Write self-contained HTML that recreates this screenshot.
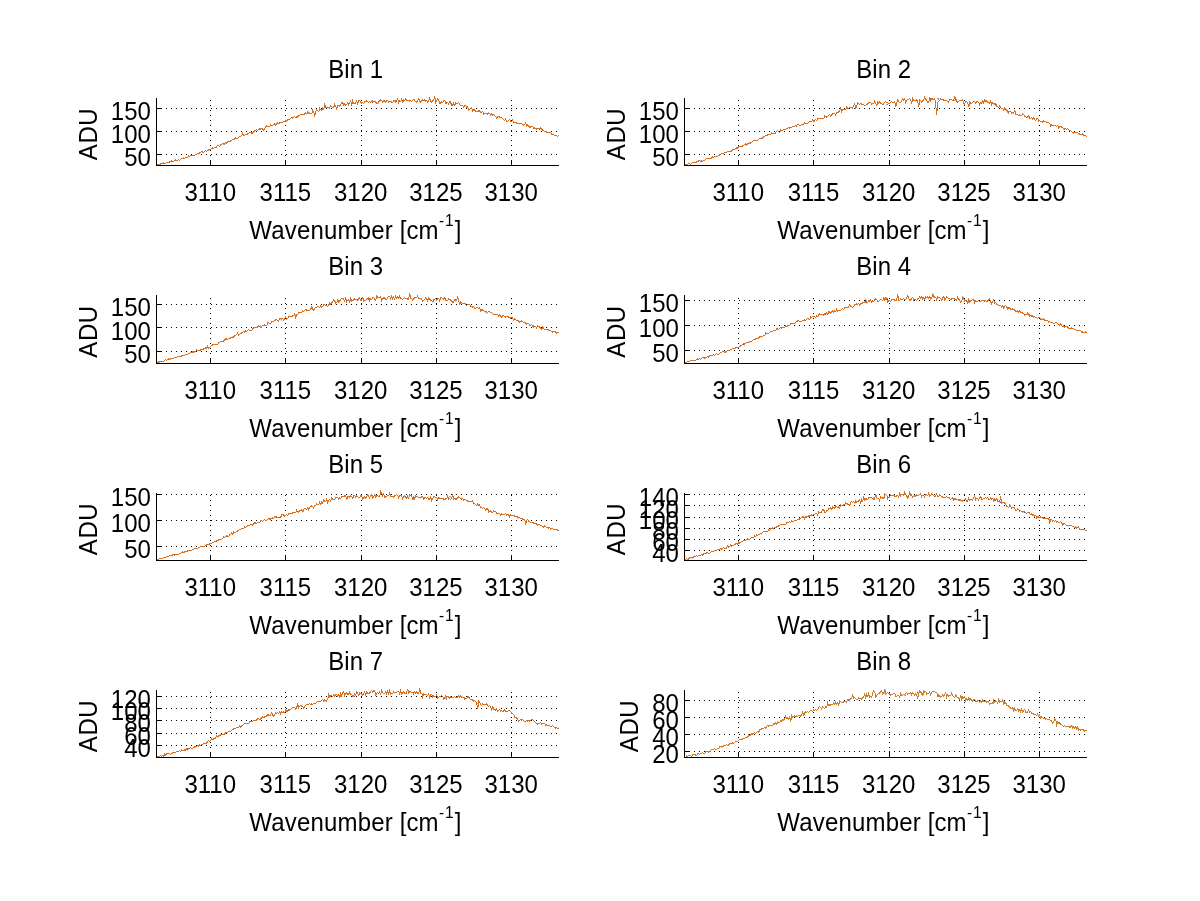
<!DOCTYPE html>
<html><head><meta charset="utf-8"><title>Bins</title>
<style>html,body{margin:0;padding:0;background:#fff}svg{display:block}text{filter:grayscale(1)}text{font-family:"Liberation Sans",sans-serif;fill:#000}</style></head>
<body>
<svg width="1200" height="901" viewBox="0 0 1200 901">
<rect width="1200" height="901" fill="#fff"/>
<g id="bin1">
<path d="M156.0 154.5H559.0M156.0 131.5H559.0M156.0 108.5H559.0M210.5 166.0V98.0M285.5 166.0V98.0M361.5 166.0V98.0M436.5 166.0V98.0M511.5 166.0V98.0" stroke="#000" stroke-width="1" stroke-dasharray="1 4" fill="none"/>
<path d="M182.7,158.3 183.7,158.0M198.7,154.2 199.7,153.3M223.7,145.0 224.7,143.5 225.7,142.8M246.7,134.2 247.7,134.3M257.7,130.2 258.7,129.3M285.7,121.7 286.7,120.8 287.7,120.8M307.7,113.9 308.7,112.4 309.7,113.3M370.7,102.7 371.7,100.9 372.7,102.8M377.7,103.9 378.7,101.3M394.7,100.8 395.7,102.3 396.7,101.4M450.7,103.0 451.7,105.7M466.7,107.1 467.7,107.0M487.7,113.6 488.7,112.9M493.7,115.2 494.7,115.3M549.7,132.9 550.7,132.7" stroke="#3b2a6e" stroke-width="1" fill="none"/>
<path d="M156.7,165.2 157.7,164.7 158.7,164.7 159.7,164.8 160.7,163.9 161.7,163.9 162.7,163.7 163.7,162.7 164.7,163.6 165.7,163.2 166.7,162.5 167.7,162.4 168.7,162.4 169.7,161.9 170.7,161.6 171.7,160.9 172.7,161.5 173.7,161.1 174.7,160.9 175.7,159.9 176.7,160.9 177.7,160.0 178.7,159.5 179.7,160.3 180.7,159.1 181.7,158.3 182.7,158.2 183.7,158.2 184.7,158.4 185.7,157.5 186.7,157.1 187.7,157.5 188.7,156.1 189.7,156.7 190.7,155.3 191.7,155.5 192.7,155.0 193.7,155.8 194.7,155.6 195.7,154.3 196.7,154.5 197.7,153.7 198.7,153.7 199.7,152.8 200.7,152.0 201.7,151.6 202.7,152.2 203.7,152.6 204.7,151.4 205.7,150.7 206.7,151.4 207.7,150.3 208.7,149.9 209.7,149.6 210.7,149.0 211.7,148.6 212.7,147.7 213.7,148.2 214.7,147.5 215.7,147.7 216.7,146.5 217.7,145.4 218.7,145.8 219.7,146.2 220.7,144.9 221.7,144.3 222.7,143.6 223.7,143.2 224.7,143.1 225.7,142.3 226.7,143.1 227.7,141.8 228.7,141.6 229.7,141.8 230.7,140.9 231.7,140.1 232.7,139.9 233.7,139.7 234.7,138.8 235.7,137.5 236.7,138.3 237.7,138.0 238.7,137.4 239.7,136.2 240.7,136.4 241.7,135.6 242.7,133.2 243.7,135.8 244.7,135.5 245.7,134.6 246.7,134.2 247.7,133.9 248.7,133.1 249.7,132.7 250.7,132.0 251.7,133.2 252.7,133.0 253.7,131.8 254.7,130.8 255.7,130.4 256.7,129.8 257.7,130.2 258.7,129.8 259.7,128.4 260.7,129.2 261.7,128.2 262.7,129.2 263.7,130.3 264.7,128.7 265.7,127.0 266.7,125.7 267.7,126.8 268.7,127.0 269.7,126.3 270.7,124.8 271.7,125.5 272.7,125.0 273.7,124.4 274.7,123.9 275.7,125.2 276.7,124.0 277.7,122.8 278.7,123.5 279.7,122.8 280.7,122.4 281.7,122.7 282.7,122.1 283.7,121.7 284.7,121.8 285.7,121.0 286.7,120.0 287.7,119.9 288.7,119.4 289.7,119.6 290.7,118.3 291.7,117.3 292.7,118.5 293.7,117.0 294.7,116.2 295.7,117.7 296.7,116.5 297.7,117.2 298.7,116.0 299.7,115.1 300.7,114.7 301.7,114.9 302.7,114.8 303.7,114.0 304.7,114.1 305.7,112.7 306.7,113.7 307.7,111.8 308.7,112.9 309.7,113.4 310.7,113.4 311.7,113.7 312.7,110.3 313.7,112.2 314.7,115.8 315.7,111.8 316.7,109.7 317.7,110.7 318.7,111.9 319.7,108.2 320.7,109.9 321.7,110.3 322.7,108.2 323.7,109.3 324.7,104.6 325.7,107.3 326.7,107.0 327.7,107.8 328.7,107.3 329.7,108.1 330.7,105.8 331.7,106.5 332.7,107.4 333.7,107.5 334.7,104.4 335.7,106.4 336.7,108.8 337.7,105.7 338.7,105.4 339.7,106.3 340.7,104.8 341.7,102.4 342.7,102.8 343.7,105.1 344.7,103.8 345.7,105.3 346.7,104.1 347.7,102.8 348.7,104.8 349.7,102.5 350.7,100.9 351.7,105.6 352.7,100.8 353.7,103.8 354.7,104.0 355.7,103.0 356.7,100.7 357.7,103.9 358.7,100.8 359.7,100.9 360.7,102.0 361.7,103.3 362.7,102.7 363.7,103.2 364.7,101.6 365.7,101.9 366.7,100.6 367.7,101.6 368.7,102.6 369.7,101.5 370.7,102.4 371.7,101.0 372.7,100.9 373.7,101.7 374.7,101.3 375.7,102.2 376.7,103.2 377.7,103.5 378.7,101.1 379.7,101.0 380.7,100.0 381.7,100.3 382.7,102.0 383.7,100.2 384.7,101.0 385.7,102.0 386.7,100.9 387.7,100.3 388.7,102.2 389.7,101.1 390.7,101.4 391.7,102.4 392.7,102.3 393.7,100.4 394.7,100.2 395.7,101.2 396.7,100.6 397.7,98.4 398.7,102.4 399.7,100.8 400.7,101.7 401.7,99.2 402.7,102.3 403.7,99.9 404.7,100.5 405.7,98.9 406.7,100.4 407.7,100.3 408.7,100.4 409.7,101.2 410.7,100.7 411.7,101.8 412.7,100.0 413.7,99.3 414.7,100.5 415.7,101.3 416.7,102.1 417.7,100.4 418.7,98.3 419.7,101.0 420.7,102.4 421.7,100.6 422.7,99.9 423.7,100.9 424.7,99.9 425.7,101.3 426.7,100.5 427.7,102.3 428.7,101.3 429.7,97.7 430.7,101.6 431.7,102.1 432.7,100.3 433.7,100.6 434.7,96.0 435.7,102.4 436.7,100.7 437.7,98.9 438.7,99.4 439.7,103.6 440.7,102.7 441.7,101.7 442.7,102.5 443.7,100.7 444.7,100.5 445.7,103.3 446.7,102.9 447.7,102.4 448.7,104.1 449.7,101.5 450.7,102.2 451.7,104.1 452.7,105.2 453.7,103.2 454.7,105.3 455.7,102.8 456.7,103.2 457.7,103.6 458.7,102.3 459.7,104.7 460.7,105.9 461.7,105.1 462.7,105.6 463.7,107.7 464.7,105.3 465.7,105.6 466.7,107.0 467.7,106.9 468.7,110.0 469.7,109.4 470.7,108.6 471.7,107.7 472.7,111.2 473.7,109.9 474.7,110.0 475.7,111.3 476.7,111.9 477.7,111.7 478.7,110.9 479.7,110.9 480.7,112.8 481.7,112.4 482.7,111.2 483.7,114.0 484.7,113.9 485.7,113.2 486.7,113.4 487.7,114.1 488.7,113.5 489.7,113.2 490.7,115.0 491.7,113.7 492.7,115.6 493.7,114.4 494.7,115.8 495.7,116.1 496.7,118.0 497.7,116.0 498.7,116.0 499.7,117.0 500.7,117.0 501.7,117.7 502.7,118.9 503.7,119.5 504.7,120.5 505.7,119.0 506.7,121.9 507.7,121.7 508.7,120.4 509.7,119.1 510.7,121.1 511.7,121.5 512.7,120.1 513.7,122.1 514.7,122.2 515.7,122.0 516.7,123.3 517.7,123.9 518.7,123.1 519.7,123.8 520.7,123.5 521.7,123.7 522.7,124.5 523.7,125.1 524.7,124.6 525.7,122.8 526.7,126.0 527.7,124.8 528.7,126.2 529.7,127.6 530.7,126.7 531.7,126.2 532.7,126.3 533.7,128.3 534.7,127.9 535.7,128.6 536.7,129.1 537.7,128.8 538.7,129.0 539.7,129.0 540.7,128.0 541.7,129.3 542.7,130.5 543.7,130.8 544.7,131.5 545.7,131.6 546.7,132.1 547.7,132.8 548.7,132.2 549.7,132.9 550.7,132.5 551.7,134.3 552.7,134.2 553.7,134.8 554.7,135.7 555.7,135.8 556.7,135.6 557.7,136.4 558.7,135.5" stroke="#d8701f" stroke-width="1" fill="none" stroke-linejoin="miter" shape-rendering="crispEdges"/>
<path d="M156.5 98.0V166.0M156.0 165.5H559.0M156.5 154.5h4.5M156.5 131.5h4.5M156.5 108.5h4.5M210.5 165.5v-4.5M285.5 165.5v-4.5M361.5 165.5v-4.5M436.5 165.5v-4.5M511.5 165.5v-4.5" stroke="#000" stroke-width="1" fill="none"/>
<text transform="translate(150.9,166.3) scale(1,1.05)" font-size="24" text-anchor="end">50</text>
<text transform="translate(150.9,143.2) scale(1,1.05)" font-size="24" text-anchor="end">100</text>
<text transform="translate(150.9,120.1) scale(1,1.05)" font-size="24" text-anchor="end">150</text>
<text transform="translate(210.2,201.1) scale(1,1.05)" font-size="24" text-anchor="middle">3110</text>
<text transform="translate(285.4,201.1) scale(1,1.05)" font-size="24" text-anchor="middle">3115</text>
<text transform="translate(360.7,201.1) scale(1,1.05)" font-size="24" text-anchor="middle">3120</text>
<text transform="translate(435.9,201.1) scale(1,1.05)" font-size="24" text-anchor="middle">3125</text>
<text transform="translate(511.2,201.1) scale(1,1.05)" font-size="24" text-anchor="middle">3130</text>
<text transform="translate(355.7,77.8) scale(1,1.1)" font-size="24" text-anchor="middle">Bin 1</text>
<text transform="translate(355.3,238.8) scale(1,1.1)" font-size="24" text-anchor="middle"><tspan letter-spacing="0.2">Wavenumber </tspan>[cm<tspan font-size="15.5" dy="-11.3" dx="0.5" letter-spacing="1.0">-1</tspan><tspan dy="11.3">]</tspan></text>
<text transform="translate(97.0,134.0) rotate(-90) scale(1,1.1)" font-size="24" text-anchor="middle" letter-spacing="0.6">ADU</text>
</g>
<g id="bin2">
<path d="M684.0 154.5H1087.0M684.0 131.5H1087.0M684.0 108.5H1087.0M738.5 166.0V98.0M813.5 166.0V98.0M889.5 166.0V98.0M964.5 166.0V98.0M1039.5 166.0V98.0" stroke="#000" stroke-width="1" stroke-dasharray="1 4" fill="none"/>
<path d="M700.7,160.6 701.7,161.5 702.7,161.1M710.7,159.0 711.7,157.4 712.7,157.4M735.7,149.2 736.7,148.5 737.7,148.6M748.7,143.1 749.7,143.2 750.7,143.3M760.7,138.2 761.7,138.4 762.7,138.2M795.7,126.2 796.7,126.5M802.7,124.8 803.7,123.9M807.7,123.2 808.7,122.5M851.7,107.6 852.7,108.7M886.7,104.6 887.7,104.4M937.7,98.0 938.7,99.7M954.7,100.6 955.7,99.4 956.7,101.3M993.7,104.5 994.7,103.6 995.7,105.6M1006.7,111.3 1007.7,111.4 1008.7,114.0M1063.7,129.6 1064.7,129.1M1070.7,130.7 1071.7,131.7 1072.7,132.6" stroke="#3b2a6e" stroke-width="1" fill="none"/>
<path d="M684.7,165.1 685.7,164.1 686.7,164.3 687.7,164.1 688.7,163.9 689.7,163.7 690.7,164.2 691.7,163.0 692.7,162.7 693.7,162.7 694.7,162.4 695.7,162.6 696.7,161.6 697.7,161.3 698.7,160.9 699.7,161.0 700.7,161.1 701.7,160.9 702.7,161.8 703.7,160.2 704.7,160.0 705.7,159.4 706.7,158.6 707.7,158.7 708.7,158.9 709.7,158.6 710.7,158.7 711.7,157.3 712.7,156.8 713.7,157.1 714.7,156.9 715.7,156.7 716.7,156.4 717.7,156.3 718.7,155.6 719.7,154.6 720.7,154.8 721.7,153.3 722.7,153.7 723.7,153.6 724.7,152.3 725.7,152.3 726.7,152.4 727.7,151.5 728.7,151.1 729.7,151.7 730.7,151.0 731.7,151.0 732.7,149.9 733.7,149.7 734.7,149.4 735.7,148.8 736.7,147.7 737.7,148.0 738.7,146.7 739.7,146.3 740.7,147.0 741.7,146.3 742.7,145.9 743.7,145.0 744.7,144.8 745.7,143.4 746.7,145.0 747.7,143.7 748.7,143.3 749.7,143.4 750.7,142.7 751.7,142.3 752.7,141.1 753.7,140.6 754.7,140.7 755.7,140.5 756.7,140.2 757.7,140.0 758.7,139.4 759.7,138.2 760.7,138.4 761.7,138.2 762.7,137.8 763.7,136.7 764.7,136.8 765.7,135.3 766.7,135.8 767.7,134.9 768.7,134.4 769.7,134.4 770.7,134.1 771.7,132.9 772.7,133.8 773.7,133.3 774.7,133.7 775.7,132.7 776.7,131.0 777.7,130.8 778.7,131.6 779.7,132.8 780.7,130.1 781.7,130.7 782.7,130.2 783.7,129.3 784.7,129.3 785.7,129.2 786.7,128.2 787.7,128.7 788.7,127.2 789.7,128.4 790.7,127.2 791.7,127.0 792.7,126.8 793.7,126.7 794.7,126.3 795.7,125.8 796.7,125.1 797.7,124.5 798.7,124.9 799.7,125.2 800.7,125.2 801.7,124.5 802.7,125.0 803.7,124.1 804.7,122.9 805.7,123.7 806.7,123.9 807.7,123.0 808.7,122.5 809.7,121.7 810.7,121.3 811.7,121.4 812.7,120.0 813.7,121.7 814.7,120.5 815.7,119.7 816.7,120.2 817.7,118.5 818.7,118.4 819.7,119.0 820.7,118.1 821.7,118.5 822.7,118.2 823.7,118.5 824.7,115.8 825.7,116.3 826.7,117.1 827.7,116.2 828.7,115.3 829.7,114.8 830.7,116.5 831.7,114.7 832.7,113.8 833.7,113.7 834.7,113.7 835.7,115.2 836.7,112.5 837.7,113.0 838.7,111.7 839.7,111.3 840.7,108.2 841.7,111.9 842.7,109.6 843.7,110.0 844.7,109.5 845.7,109.6 846.7,106.7 847.7,108.8 848.7,108.4 849.7,107.6 850.7,107.2 851.7,108.0 852.7,107.3 853.7,105.6 854.7,103.4 855.7,107.9 856.7,106.4 857.7,103.0 858.7,104.0 859.7,104.3 860.7,103.3 861.7,104.3 862.7,104.9 863.7,104.6 864.7,105.5 865.7,105.2 866.7,104.7 867.7,104.2 868.7,102.4 869.7,102.3 870.7,102.4 871.7,104.6 872.7,103.3 873.7,103.5 874.7,101.0 875.7,103.0 876.7,105.4 877.7,102.3 878.7,103.3 879.7,101.6 880.7,103.3 881.7,103.4 882.7,104.6 883.7,103.8 884.7,102.1 885.7,101.8 886.7,102.5 887.7,102.6 888.7,103.3 889.7,103.3 890.7,102.1 891.7,101.8 892.7,102.2 893.7,102.3 894.7,101.1 895.7,107.0 896.7,102.4 897.7,100.0 898.7,101.2 899.7,102.7 900.7,102.7 901.7,100.8 902.7,98.5 903.7,100.4 904.7,98.4 905.7,102.8 906.7,100.7 907.7,99.2 908.7,99.4 909.7,98.8 910.7,100.0 911.7,102.9 912.7,98.6 913.7,100.7 914.7,100.9 915.7,100.9 916.7,99.6 917.7,101.3 918.7,107.3 919.7,99.8 920.7,100.3 921.7,102.1 922.7,100.5 923.7,100.3 924.7,97.3 925.7,99.0 926.7,100.2 927.7,102.7 928.7,102.3 929.7,97.3 930.7,100.6 931.7,98.6 932.7,99.2 933.7,99.6 934.7,98.7 935.7,104.4 936.7,114.9 937.7,102.2 938.7,101.1 939.7,100.2 940.7,98.7 941.7,99.6 942.7,99.0 943.7,100.1 944.7,100.8 945.7,100.8 946.7,100.6 947.7,101.3 948.7,102.2 949.7,99.5 950.7,99.1 951.7,100.0 952.7,100.2 953.7,100.3 954.7,97.0 955.7,97.8 956.7,101.2 957.7,102.4 958.7,101.3 959.7,100.1 960.7,100.4 961.7,100.8 962.7,99.8 963.7,103.0 964.7,104.0 965.7,101.6 966.7,101.6 967.7,102.7 968.7,107.1 969.7,102.0 970.7,103.1 971.7,103.0 972.7,102.4 973.7,101.2 974.7,101.2 975.7,103.4 976.7,101.4 977.7,101.5 978.7,102.7 979.7,104.8 980.7,103.0 981.7,103.4 982.7,100.8 983.7,102.9 984.7,99.9 985.7,101.5 986.7,100.9 987.7,102.2 988.7,102.9 989.7,103.3 990.7,100.6 991.7,104.5 992.7,102.8 993.7,103.7 994.7,103.3 995.7,103.2 996.7,106.8 997.7,106.5 998.7,107.6 999.7,105.5 1000.7,107.6 1001.7,108.5 1002.7,108.8 1003.7,110.6 1004.7,108.3 1005.7,109.5 1006.7,110.2 1007.7,110.9 1008.7,112.9 1009.7,111.1 1010.7,111.4 1011.7,113.1 1012.7,112.8 1013.7,113.5 1014.7,110.0 1015.7,114.9 1016.7,114.9 1017.7,114.1 1018.7,115.8 1019.7,114.6 1020.7,115.8 1021.7,115.6 1022.7,114.0 1023.7,114.7 1024.7,116.1 1025.7,117.0 1026.7,117.8 1027.7,116.7 1028.7,115.6 1029.7,118.2 1030.7,118.1 1031.7,117.9 1032.7,119.0 1033.7,117.9 1034.7,119.6 1035.7,120.6 1036.7,118.3 1037.7,118.1 1038.7,121.2 1039.7,120.6 1040.7,121.5 1041.7,121.0 1042.7,122.0 1043.7,121.0 1044.7,121.5 1045.7,121.7 1046.7,122.9 1047.7,122.7 1048.7,123.0 1049.7,123.2 1050.7,126.0 1051.7,124.7 1052.7,125.2 1053.7,125.6 1054.7,125.0 1055.7,125.6 1056.7,126.5 1057.7,125.4 1058.7,127.7 1059.7,126.5 1060.7,126.7 1061.7,127.1 1062.7,128.0 1063.7,129.0 1064.7,128.8 1065.7,128.9 1066.7,129.1 1067.7,128.9 1068.7,130.0 1069.7,130.6 1070.7,130.7 1071.7,131.9 1072.7,132.4 1073.7,133.2 1074.7,132.2 1075.7,132.3 1076.7,132.4 1077.7,133.0 1078.7,133.0 1079.7,134.6 1080.7,134.8 1081.7,134.8 1082.7,133.7 1083.7,135.2 1084.7,136.0 1085.7,135.7 1086.7,136.3" stroke="#d8701f" stroke-width="1" fill="none" stroke-linejoin="miter" shape-rendering="crispEdges"/>
<path d="M684.5 98.0V166.0M684.0 165.5H1087.0M684.5 154.5h4.5M684.5 131.5h4.5M684.5 108.5h4.5M738.5 165.5v-4.5M813.5 165.5v-4.5M889.5 165.5v-4.5M964.5 165.5v-4.5M1039.5 165.5v-4.5" stroke="#000" stroke-width="1" fill="none"/>
<text transform="translate(678.9,166.3) scale(1,1.05)" font-size="24" text-anchor="end">50</text>
<text transform="translate(678.9,143.2) scale(1,1.05)" font-size="24" text-anchor="end">100</text>
<text transform="translate(678.9,120.1) scale(1,1.05)" font-size="24" text-anchor="end">150</text>
<text transform="translate(738.2,201.1) scale(1,1.05)" font-size="24" text-anchor="middle">3110</text>
<text transform="translate(813.5,201.1) scale(1,1.05)" font-size="24" text-anchor="middle">3115</text>
<text transform="translate(888.7,201.1) scale(1,1.05)" font-size="24" text-anchor="middle">3120</text>
<text transform="translate(964.0,201.1) scale(1,1.05)" font-size="24" text-anchor="middle">3125</text>
<text transform="translate(1039.2,201.1) scale(1,1.05)" font-size="24" text-anchor="middle">3130</text>
<text transform="translate(883.7,77.8) scale(1,1.1)" font-size="24" text-anchor="middle">Bin 2</text>
<text transform="translate(883.3,238.8) scale(1,1.1)" font-size="24" text-anchor="middle"><tspan letter-spacing="0.2">Wavenumber </tspan>[cm<tspan font-size="15.5" dy="-11.3" dx="0.5" letter-spacing="1.0">-1</tspan><tspan dy="11.3">]</tspan></text>
<text transform="translate(625.0,134.0) rotate(-90) scale(1,1.1)" font-size="24" text-anchor="middle" letter-spacing="0.6">ADU</text>
</g>
<g id="bin3">
<path d="M156.0 351.5H559.0M156.0 327.5H559.0M156.0 304.5H559.0M210.5 364.0V295.0M285.5 364.0V295.0M361.5 364.0V295.0M436.5 364.0V295.0M511.5 364.0V295.0" stroke="#000" stroke-width="1" stroke-dasharray="1 4" fill="none"/>
<path d="M158.7,361.9 159.7,362.0M168.7,359.6 169.7,359.3 170.7,359.1M192.7,352.2 193.7,351.9 194.7,352.0M214.7,344.6 215.7,344.5 216.7,344.3M230.7,338.4 231.7,337.4 232.7,337.0M258.7,326.7 259.7,326.3 260.7,326.0M269.7,323.6 270.7,323.9M280.7,319.8 281.7,319.8M293.7,315.6 294.7,314.5 295.7,316.1M306.7,310.7 307.7,310.2M347.7,300.5 348.7,300.1M356.7,299.9 357.7,299.6 358.7,300.1M366.7,298.4 367.7,298.8 368.7,300.1M432.7,302.2 433.7,300.2 434.7,299.7M455.7,301.5 456.7,300.6M460.7,302.1 461.7,303.4M485.7,312.8 486.7,313.2M493.7,314.3 494.7,314.5M513.7,320.0 514.7,318.7 515.7,320.1M532.7,325.7 533.7,325.8 534.7,326.9M547.7,330.1 548.7,329.9 549.7,330.5" stroke="#3b2a6e" stroke-width="1" fill="none"/>
<path d="M156.7,362.3 157.7,362.8 158.7,361.7 159.7,361.1 160.7,361.2 161.7,361.0 162.7,361.4 163.7,361.1 164.7,360.3 165.7,359.8 166.7,360.5 167.7,359.4 168.7,358.9 169.7,359.5 170.7,358.6 171.7,358.9 172.7,358.9 173.7,358.2 174.7,357.7 175.7,357.8 176.7,357.0 177.7,356.9 178.7,356.9 179.7,356.4 180.7,356.4 181.7,355.9 182.7,355.5 183.7,355.0 184.7,355.1 185.7,354.3 186.7,354.2 187.7,354.1 188.7,353.8 189.7,353.2 190.7,352.7 191.7,352.7 192.7,351.6 193.7,352.1 194.7,351.9 195.7,351.9 196.7,350.0 197.7,350.2 198.7,350.7 199.7,350.4 200.7,350.0 201.7,349.1 202.7,349.5 203.7,348.8 204.7,348.7 205.7,347.7 206.7,348.1 207.7,346.2 208.7,348.5 209.7,347.1 210.7,346.5 211.7,345.6 212.7,344.9 213.7,344.9 214.7,344.8 215.7,344.6 216.7,344.2 217.7,344.1 218.7,342.9 219.7,342.3 220.7,341.7 221.7,341.1 222.7,341.5 223.7,340.9 224.7,340.0 225.7,338.6 226.7,339.1 227.7,339.1 228.7,338.7 229.7,338.4 230.7,337.9 231.7,337.0 232.7,337.0 233.7,337.0 234.7,335.7 235.7,335.6 236.7,334.5 237.7,333.0 238.7,335.3 239.7,334.0 240.7,333.7 241.7,332.7 242.7,332.3 243.7,331.1 244.7,332.0 245.7,331.0 246.7,331.5 247.7,330.1 248.7,329.8 249.7,330.6 250.7,330.5 251.7,330.2 252.7,328.6 253.7,327.8 254.7,327.9 255.7,328.0 256.7,327.9 257.7,326.3 258.7,325.9 259.7,326.2 260.7,327.8 261.7,326.5 262.7,325.3 263.7,325.8 264.7,324.9 265.7,325.2 266.7,325.6 267.7,322.8 268.7,323.0 269.7,323.3 270.7,323.4 271.7,321.7 272.7,322.0 273.7,321.0 274.7,320.9 275.7,319.8 276.7,319.7 277.7,320.5 278.7,321.1 279.7,318.5 280.7,319.0 281.7,318.6 282.7,318.2 283.7,319.9 284.7,318.7 285.7,317.1 286.7,319.2 287.7,318.4 288.7,316.4 289.7,316.1 290.7,316.4 291.7,316.8 292.7,315.7 293.7,315.4 294.7,313.3 295.7,317.5 296.7,314.7 297.7,314.7 298.7,312.9 299.7,312.4 300.7,312.9 301.7,312.6 302.7,310.9 303.7,311.7 304.7,310.1 305.7,309.5 306.7,310.1 307.7,310.3 308.7,310.8 309.7,310.8 310.7,309.0 311.7,307.0 312.7,308.8 313.7,310.7 314.7,308.1 315.7,307.8 316.7,307.0 317.7,306.7 318.7,306.4 319.7,307.8 320.7,305.4 321.7,306.9 322.7,306.2 323.7,304.5 324.7,304.5 325.7,305.3 326.7,305.4 327.7,306.7 328.7,305.3 329.7,302.8 330.7,304.3 331.7,302.9 332.7,301.6 333.7,300.1 334.7,300.6 335.7,303.3 336.7,302.5 337.7,299.8 338.7,302.0 339.7,301.1 340.7,299.6 341.7,298.5 342.7,298.6 343.7,299.2 344.7,301.0 345.7,297.7 346.7,301.6 347.7,300.1 348.7,299.3 349.7,301.8 350.7,298.3 351.7,301.1 352.7,300.4 353.7,300.0 354.7,298.7 355.7,299.2 356.7,300.0 357.7,300.0 358.7,298.9 359.7,298.0 360.7,300.7 361.7,300.0 362.7,297.4 363.7,301.1 364.7,300.5 365.7,300.0 366.7,299.4 367.7,298.7 368.7,297.6 369.7,300.5 370.7,298.7 371.7,299.7 372.7,297.7 373.7,297.6 374.7,299.1 375.7,300.1 376.7,296.0 377.7,297.6 378.7,297.2 379.7,298.0 380.7,296.5 381.7,300.6 382.7,298.8 383.7,297.7 384.7,298.1 385.7,299.8 386.7,299.5 387.7,297.2 388.7,296.2 389.7,296.2 390.7,299.0 391.7,296.3 392.7,298.9 393.7,296.9 394.7,299.2 395.7,296.3 396.7,298.1 397.7,296.6 398.7,298.1 399.7,296.1 400.7,298.4 401.7,298.9 402.7,299.2 403.7,298.2 404.7,297.5 405.7,298.3 406.7,298.0 407.7,299.6 408.7,298.7 409.7,293.0 410.7,298.4 411.7,298.5 412.7,300.7 413.7,299.0 414.7,297.5 415.7,297.7 416.7,297.3 417.7,296.0 418.7,298.3 419.7,298.8 420.7,298.1 421.7,298.9 422.7,301.5 423.7,300.1 424.7,299.9 425.7,298.0 426.7,299.0 427.7,300.9 428.7,298.0 429.7,299.1 430.7,300.7 431.7,301.0 432.7,301.5 433.7,299.8 434.7,299.4 435.7,298.2 436.7,300.6 437.7,299.0 438.7,298.1 439.7,300.9 440.7,297.5 441.7,297.8 442.7,298.3 443.7,299.1 444.7,297.7 445.7,300.3 446.7,300.4 447.7,300.9 448.7,299.0 449.7,299.2 450.7,300.6 451.7,301.0 452.7,302.6 453.7,302.0 454.7,299.4 455.7,300.4 456.7,299.7 457.7,296.3 458.7,301.1 459.7,304.1 460.7,301.9 461.7,302.7 462.7,303.8 463.7,303.1 464.7,303.5 465.7,304.3 466.7,305.6 467.7,304.4 468.7,304.6 469.7,304.2 470.7,306.1 471.7,306.3 472.7,307.4 473.7,306.2 474.7,308.2 475.7,308.4 476.7,307.7 477.7,307.8 478.7,308.4 479.7,307.7 480.7,310.9 481.7,309.2 482.7,310.4 483.7,311.0 484.7,311.7 485.7,311.9 486.7,312.0 487.7,312.1 488.7,311.4 489.7,311.9 490.7,312.1 491.7,312.3 492.7,313.9 493.7,314.4 494.7,314.5 495.7,315.0 496.7,314.5 497.7,314.4 498.7,316.3 499.7,314.9 500.7,316.1 501.7,317.3 502.7,315.6 503.7,315.6 504.7,316.3 505.7,317.1 506.7,316.9 507.7,316.3 508.7,317.1 509.7,317.1 510.7,318.4 511.7,317.3 512.7,318.5 513.7,320.4 514.7,319.0 515.7,319.9 516.7,320.5 517.7,320.2 518.7,321.3 519.7,322.2 520.7,321.8 521.7,320.7 522.7,321.7 523.7,322.4 524.7,322.3 525.7,323.1 526.7,324.2 527.7,323.7 528.7,323.4 529.7,325.3 530.7,325.0 531.7,324.8 532.7,326.3 533.7,327.4 534.7,326.8 535.7,326.6 536.7,328.0 537.7,325.5 538.7,326.6 539.7,327.2 540.7,328.0 541.7,329.2 542.7,327.1 543.7,328.8 544.7,329.6 545.7,329.2 546.7,329.2 547.7,329.6 548.7,329.9 549.7,330.2 550.7,330.5 551.7,331.4 552.7,332.2 553.7,331.4 554.7,331.3 555.7,332.1 556.7,333.3 557.7,332.4 558.7,332.3" stroke="#d8701f" stroke-width="1" fill="none" stroke-linejoin="miter" shape-rendering="crispEdges"/>
<path d="M156.5 295.0V364.0M156.0 363.5H559.0M156.5 351.5h4.5M156.5 327.5h4.5M156.5 304.5h4.5M210.5 363.5v-4.5M285.5 363.5v-4.5M361.5 363.5v-4.5M436.5 363.5v-4.5M511.5 363.5v-4.5" stroke="#000" stroke-width="1" fill="none"/>
<text transform="translate(150.9,363.1) scale(1,1.05)" font-size="24" text-anchor="end">50</text>
<text transform="translate(150.9,339.7) scale(1,1.05)" font-size="24" text-anchor="end">100</text>
<text transform="translate(150.9,316.3) scale(1,1.05)" font-size="24" text-anchor="end">150</text>
<text transform="translate(210.2,399.1) scale(1,1.05)" font-size="24" text-anchor="middle">3110</text>
<text transform="translate(285.4,399.1) scale(1,1.05)" font-size="24" text-anchor="middle">3115</text>
<text transform="translate(360.7,399.1) scale(1,1.05)" font-size="24" text-anchor="middle">3120</text>
<text transform="translate(435.9,399.1) scale(1,1.05)" font-size="24" text-anchor="middle">3125</text>
<text transform="translate(511.2,399.1) scale(1,1.05)" font-size="24" text-anchor="middle">3130</text>
<text transform="translate(355.7,274.8) scale(1,1.1)" font-size="24" text-anchor="middle">Bin 3</text>
<text transform="translate(355.3,436.8) scale(1,1.1)" font-size="24" text-anchor="middle"><tspan letter-spacing="0.2">Wavenumber </tspan>[cm<tspan font-size="15.5" dy="-11.3" dx="0.5" letter-spacing="1.0">-1</tspan><tspan dy="11.3">]</tspan></text>
<text transform="translate(97.0,331.5) rotate(-90) scale(1,1.1)" font-size="24" text-anchor="middle" letter-spacing="0.6">ADU</text>
</g>
<g id="bin4">
<path d="M684.0 350.5H1087.0M684.0 325.5H1087.0M684.0 300.5H1087.0M738.5 364.0V295.0M813.5 364.0V295.0M889.5 364.0V295.0M964.5 364.0V295.0M1039.5 364.0V295.0" stroke="#000" stroke-width="1" stroke-dasharray="1 4" fill="none"/>
<path d="M703.7,358.1 704.7,358.6 705.7,357.7M724.7,351.6 725.7,352.0 726.7,352.0M735.7,348.2 736.7,347.3M742.7,344.7 743.7,344.4 744.7,344.9M749.7,342.0 750.7,341.7M760.7,337.0 761.7,336.2M776.7,329.4 777.7,328.8 778.7,329.9M786.7,326.2 787.7,325.8 788.7,325.7M794.7,323.7 795.7,322.4M807.7,318.6 808.7,318.9 809.7,319.9M816.7,315.6 817.7,316.6 818.7,315.7M864.7,302.9 865.7,299.7 866.7,303.3M886.7,297.6 887.7,299.9 888.7,301.0M932.7,293.6 933.7,297.2 934.7,297.4M962.7,296.5 963.7,299.5M967.7,303.4 968.7,299.7M1027.7,314.0 1028.7,315.4M1040.7,319.5 1041.7,319.1" stroke="#3b2a6e" stroke-width="1" fill="none"/>
<path d="M684.7,362.9 685.7,362.4 686.7,362.2 687.7,361.5 688.7,361.7 689.7,361.1 690.7,360.6 691.7,360.3 692.7,360.9 693.7,360.6 694.7,360.6 695.7,360.2 696.7,359.9 697.7,359.0 698.7,359.1 699.7,358.9 700.7,359.6 701.7,358.1 702.7,357.7 703.7,357.6 704.7,358.1 705.7,357.2 706.7,357.5 707.7,356.7 708.7,357.1 709.7,355.7 710.7,355.9 711.7,356.0 712.7,355.4 713.7,354.8 714.7,355.5 715.7,354.0 716.7,353.9 717.7,354.4 718.7,354.3 719.7,353.3 720.7,352.4 721.7,352.1 722.7,351.9 723.7,351.9 724.7,352.1 725.7,351.6 726.7,351.3 727.7,350.3 728.7,350.9 729.7,350.1 730.7,349.8 731.7,349.0 732.7,348.5 733.7,348.8 734.7,348.6 735.7,347.4 736.7,347.3 737.7,347.2 738.7,347.1 739.7,346.8 740.7,345.6 741.7,345.7 742.7,344.2 743.7,343.4 744.7,343.7 745.7,343.6 746.7,342.4 747.7,342.5 748.7,342.2 749.7,341.7 750.7,341.4 751.7,341.3 752.7,340.2 753.7,339.6 754.7,339.6 755.7,338.6 756.7,338.2 757.7,338.6 758.7,337.9 759.7,336.8 760.7,336.6 761.7,336.7 762.7,336.0 763.7,335.2 764.7,335.7 765.7,332.9 766.7,333.2 767.7,333.1 768.7,333.2 769.7,332.3 770.7,331.7 771.7,331.9 772.7,331.0 773.7,330.9 774.7,330.9 775.7,330.6 776.7,328.7 777.7,328.8 778.7,329.1 779.7,328.4 780.7,327.7 781.7,328.1 782.7,327.4 783.7,327.3 784.7,327.2 785.7,326.0 786.7,326.5 787.7,325.6 788.7,325.3 789.7,325.5 790.7,323.5 791.7,323.1 792.7,323.0 793.7,324.0 794.7,323.2 795.7,322.4 796.7,321.7 797.7,320.9 798.7,320.8 799.7,321.1 800.7,321.3 801.7,321.3 802.7,320.6 803.7,321.0 804.7,319.5 805.7,320.5 806.7,319.4 807.7,318.4 808.7,318.6 809.7,319.7 810.7,316.9 811.7,317.1 812.7,316.9 813.7,317.0 814.7,316.7 815.7,317.7 816.7,315.9 817.7,316.2 818.7,315.0 819.7,313.9 820.7,314.8 821.7,314.4 822.7,314.9 823.7,315.1 824.7,313.4 825.7,314.4 826.7,312.4 827.7,314.4 828.7,311.5 829.7,312.0 830.7,313.0 831.7,311.6 832.7,310.7 833.7,312.0 834.7,310.2 835.7,311.7 836.7,309.3 837.7,311.2 838.7,310.8 839.7,310.2 840.7,310.4 841.7,309.0 842.7,308.9 843.7,309.8 844.7,307.4 845.7,307.9 846.7,307.7 847.7,307.4 848.7,307.0 849.7,304.7 850.7,306.7 851.7,306.7 852.7,307.3 853.7,306.6 854.7,304.9 855.7,304.9 856.7,303.9 857.7,304.1 858.7,303.5 859.7,305.0 860.7,303.9 861.7,303.8 862.7,302.5 863.7,302.4 864.7,302.9 865.7,301.2 866.7,302.3 867.7,302.5 868.7,300.7 869.7,301.1 870.7,300.0 871.7,302.6 872.7,301.1 873.7,301.6 874.7,300.0 875.7,299.0 876.7,299.8 877.7,301.3 878.7,301.5 879.7,300.4 880.7,299.3 881.7,299.7 882.7,300.4 883.7,297.9 884.7,300.1 885.7,298.0 886.7,299.4 887.7,302.1 888.7,300.4 889.7,300.3 890.7,301.7 891.7,299.7 892.7,299.8 893.7,299.1 894.7,300.3 895.7,300.9 896.7,299.9 897.7,294.3 898.7,300.4 899.7,300.5 900.7,298.7 901.7,299.3 902.7,299.6 903.7,298.5 904.7,299.7 905.7,299.3 906.7,297.8 907.7,295.8 908.7,297.8 909.7,300.5 910.7,300.2 911.7,298.3 912.7,297.2 913.7,300.2 914.7,299.5 915.7,299.7 916.7,300.4 917.7,298.6 918.7,298.1 919.7,297.0 920.7,298.0 921.7,296.5 922.7,299.0 923.7,297.3 924.7,299.5 925.7,297.1 926.7,298.0 927.7,296.5 928.7,298.5 929.7,296.4 930.7,299.0 931.7,298.1 932.7,295.2 933.7,295.8 934.7,297.8 935.7,297.5 936.7,300.1 937.7,296.6 938.7,297.5 939.7,297.8 940.7,298.2 941.7,300.1 942.7,298.0 943.7,296.3 944.7,300.2 945.7,299.0 946.7,296.8 947.7,297.9 948.7,298.4 949.7,299.0 950.7,299.9 951.7,298.8 952.7,298.6 953.7,298.2 954.7,299.2 955.7,299.7 956.7,300.3 957.7,297.4 958.7,299.0 959.7,300.7 960.7,302.3 961.7,301.5 962.7,297.9 963.7,298.4 964.7,301.3 965.7,300.7 966.7,300.8 967.7,303.0 968.7,299.5 969.7,302.1 970.7,300.8 971.7,300.1 972.7,299.8 973.7,299.5 974.7,302.5 975.7,300.9 976.7,301.7 977.7,301.5 978.7,300.7 979.7,301.8 980.7,301.2 981.7,300.6 982.7,300.5 983.7,300.0 984.7,301.2 985.7,300.7 986.7,301.7 987.7,300.6 988.7,299.9 989.7,298.9 990.7,301.9 991.7,304.1 992.7,301.5 993.7,299.5 994.7,303.5 995.7,302.3 996.7,304.3 997.7,304.5 998.7,305.3 999.7,305.2 1000.7,305.2 1001.7,306.9 1002.7,305.9 1003.7,307.8 1004.7,306.4 1005.7,305.7 1006.7,307.0 1007.7,308.9 1008.7,307.7 1009.7,308.0 1010.7,309.9 1011.7,309.7 1012.7,308.7 1013.7,309.2 1014.7,310.4 1015.7,311.1 1016.7,311.6 1017.7,310.8 1018.7,312.2 1019.7,310.5 1020.7,312.4 1021.7,312.0 1022.7,313.6 1023.7,313.0 1024.7,315.6 1025.7,314.2 1026.7,314.6 1027.7,312.9 1028.7,313.9 1029.7,316.1 1030.7,315.1 1031.7,316.8 1032.7,315.7 1033.7,317.1 1034.7,316.3 1035.7,317.6 1036.7,318.0 1037.7,318.5 1038.7,317.6 1039.7,317.6 1040.7,319.2 1041.7,319.3 1042.7,319.9 1043.7,318.9 1044.7,320.6 1045.7,320.3 1046.7,320.0 1047.7,320.8 1048.7,322.0 1049.7,321.8 1050.7,322.1 1051.7,322.4 1052.7,322.4 1053.7,323.8 1054.7,323.3 1055.7,322.7 1056.7,323.0 1057.7,323.9 1058.7,324.3 1059.7,325.3 1060.7,323.6 1061.7,326.0 1062.7,326.5 1063.7,325.8 1064.7,327.2 1065.7,326.3 1066.7,326.9 1067.7,327.0 1068.7,328.5 1069.7,328.6 1070.7,328.8 1071.7,327.8 1072.7,328.8 1073.7,328.4 1074.7,329.5 1075.7,330.0 1076.7,330.7 1077.7,330.2 1078.7,330.7 1079.7,330.8 1080.7,330.6 1081.7,332.3 1082.7,331.9 1083.7,332.8 1084.7,332.8 1085.7,331.9 1086.7,332.6" stroke="#d8701f" stroke-width="1" fill="none" stroke-linejoin="miter" shape-rendering="crispEdges"/>
<path d="M684.5 295.0V364.0M684.0 363.5H1087.0M684.5 350.5h4.5M684.5 325.5h4.5M684.5 300.5h4.5M738.5 363.5v-4.5M813.5 363.5v-4.5M889.5 363.5v-4.5M964.5 363.5v-4.5M1039.5 363.5v-4.5" stroke="#000" stroke-width="1" fill="none"/>
<text transform="translate(678.9,362.3) scale(1,1.05)" font-size="24" text-anchor="end">50</text>
<text transform="translate(678.9,337.3) scale(1,1.05)" font-size="24" text-anchor="end">100</text>
<text transform="translate(678.9,312.3) scale(1,1.05)" font-size="24" text-anchor="end">150</text>
<text transform="translate(738.2,399.1) scale(1,1.05)" font-size="24" text-anchor="middle">3110</text>
<text transform="translate(813.5,399.1) scale(1,1.05)" font-size="24" text-anchor="middle">3115</text>
<text transform="translate(888.7,399.1) scale(1,1.05)" font-size="24" text-anchor="middle">3120</text>
<text transform="translate(964.0,399.1) scale(1,1.05)" font-size="24" text-anchor="middle">3125</text>
<text transform="translate(1039.2,399.1) scale(1,1.05)" font-size="24" text-anchor="middle">3130</text>
<text transform="translate(883.7,274.8) scale(1,1.1)" font-size="24" text-anchor="middle">Bin 4</text>
<text transform="translate(883.3,436.8) scale(1,1.1)" font-size="24" text-anchor="middle"><tspan letter-spacing="0.2">Wavenumber </tspan>[cm<tspan font-size="15.5" dy="-11.3" dx="0.5" letter-spacing="1.0">-1</tspan><tspan dy="11.3">]</tspan></text>
<text transform="translate(625.0,331.5) rotate(-90) scale(1,1.1)" font-size="24" text-anchor="middle" letter-spacing="0.6">ADU</text>
</g>
<g id="bin5">
<path d="M156.0 546.5H559.0M156.0 520.5H559.0M156.0 494.5H559.0M210.5 561.0V493.0M285.5 561.0V493.0M361.5 561.0V493.0M436.5 561.0V493.0M511.5 561.0V493.0" stroke="#000" stroke-width="1" stroke-dasharray="1 4" fill="none"/>
<path d="M226.7,536.3 227.7,535.8M246.7,526.6 247.7,525.8M268.7,519.1 269.7,518.9 270.7,519.5M275.7,517.5 276.7,517.5M293.7,512.5 294.7,512.6 295.7,512.4M301.7,509.9 302.7,511.8 303.7,510.9M346.7,499.3 347.7,497.7M384.7,497.6 385.7,497.0M412.7,500.0 413.7,497.2 414.7,499.1M420.7,497.8 421.7,496.9 422.7,496.7M438.7,498.1 439.7,497.9M449.7,496.2 450.7,497.2M477.7,504.8 478.7,505.9 479.7,505.5M508.7,514.9 509.7,517.5M517.7,518.6 518.7,517.9" stroke="#3b2a6e" stroke-width="1" fill="none"/>
<path d="M156.7,558.9 157.7,559.1 158.7,559.5 159.7,558.3 160.7,558.7 161.7,558.5 162.7,558.1 163.7,557.9 164.7,557.7 165.7,557.2 166.7,556.3 167.7,556.4 168.7,556.3 169.7,555.7 170.7,555.1 171.7,555.7 172.7,554.9 173.7,554.7 174.7,555.1 175.7,554.6 176.7,554.1 177.7,554.0 178.7,554.3 179.7,553.5 180.7,553.4 181.7,552.7 182.7,551.9 183.7,552.4 184.7,551.9 185.7,551.9 186.7,551.7 187.7,550.9 188.7,550.7 189.7,550.9 190.7,550.1 191.7,550.6 192.7,549.5 193.7,549.5 194.7,548.5 195.7,548.5 196.7,548.5 197.7,548.2 198.7,547.9 199.7,547.2 200.7,546.6 201.7,546.2 202.7,546.2 203.7,546.1 204.7,546.0 205.7,545.7 206.7,544.6 207.7,544.4 208.7,544.2 209.7,544.0 210.7,543.1 211.7,543.5 212.7,542.5 213.7,542.0 214.7,541.2 215.7,541.8 216.7,540.4 217.7,540.6 218.7,539.7 219.7,539.4 220.7,539.1 221.7,539.0 222.7,538.8 223.7,536.6 224.7,537.4 225.7,536.8 226.7,535.9 227.7,536.2 228.7,536.6 229.7,534.6 230.7,534.3 231.7,532.5 232.7,534.0 233.7,532.1 234.7,532.6 235.7,532.1 236.7,531.8 237.7,530.4 238.7,530.3 239.7,529.6 240.7,529.1 241.7,528.5 242.7,528.6 243.7,528.1 244.7,526.8 245.7,527.1 246.7,526.5 247.7,525.6 248.7,525.4 249.7,525.5 250.7,524.6 251.7,524.3 252.7,525.2 253.7,523.9 254.7,522.5 255.7,523.2 256.7,523.0 257.7,522.4 258.7,522.1 259.7,522.2 260.7,520.6 261.7,520.4 262.7,521.6 263.7,520.0 264.7,519.4 265.7,520.7 266.7,520.6 267.7,519.5 268.7,518.2 269.7,519.3 270.7,518.2 271.7,519.0 272.7,517.8 273.7,518.5 274.7,517.0 275.7,516.1 276.7,516.9 277.7,517.4 278.7,517.9 279.7,517.6 280.7,517.2 281.7,514.8 282.7,514.6 283.7,515.2 284.7,516.3 285.7,515.2 286.7,514.4 287.7,515.6 288.7,513.9 289.7,513.7 290.7,513.3 291.7,514.0 292.7,512.3 293.7,513.0 294.7,512.6 295.7,513.0 296.7,510.3 297.7,511.6 298.7,512.2 299.7,510.8 300.7,510.8 301.7,509.5 302.7,511.3 303.7,509.2 304.7,508.5 305.7,508.5 306.7,509.3 307.7,507.4 308.7,510.0 309.7,507.1 310.7,506.6 311.7,505.8 312.7,506.5 313.7,508.3 314.7,505.5 315.7,505.3 316.7,503.9 317.7,504.5 318.7,504.6 319.7,502.2 320.7,504.5 321.7,502.0 322.7,503.2 323.7,500.2 324.7,501.2 325.7,502.0 326.7,499.0 327.7,502.4 328.7,500.2 329.7,499.6 330.7,501.1 331.7,498.1 332.7,499.5 333.7,499.9 334.7,499.5 335.7,497.8 336.7,497.7 337.7,497.7 338.7,499.0 339.7,497.5 340.7,498.5 341.7,496.5 342.7,496.2 343.7,496.9 344.7,495.6 345.7,495.9 346.7,498.5 347.7,496.3 348.7,496.0 349.7,497.5 350.7,495.8 351.7,496.3 352.7,498.3 353.7,495.8 354.7,495.4 355.7,497.2 356.7,495.8 357.7,497.0 358.7,497.2 359.7,498.0 360.7,495.5 361.7,496.3 362.7,499.2 363.7,497.9 364.7,496.5 365.7,498.3 366.7,496.7 367.7,494.9 368.7,496.7 369.7,498.0 370.7,495.2 371.7,494.3 372.7,498.2 373.7,496.4 374.7,494.9 375.7,496.8 376.7,495.6 377.7,495.9 378.7,496.3 379.7,496.0 380.7,491.6 381.7,493.7 382.7,495.8 383.7,494.0 384.7,497.0 385.7,496.1 386.7,496.6 387.7,495.5 388.7,495.9 389.7,493.2 390.7,496.8 391.7,496.4 392.7,496.7 393.7,497.2 394.7,495.3 395.7,495.5 396.7,494.7 397.7,495.3 398.7,498.1 399.7,495.2 400.7,495.6 401.7,495.9 402.7,499.0 403.7,496.8 404.7,495.7 405.7,497.5 406.7,498.2 407.7,496.2 408.7,498.1 409.7,495.0 410.7,495.1 411.7,496.5 412.7,498.6 413.7,496.6 414.7,498.8 415.7,496.0 416.7,496.8 417.7,496.8 418.7,497.8 419.7,497.7 420.7,497.7 421.7,496.7 422.7,496.0 423.7,498.8 424.7,497.4 425.7,497.7 426.7,498.4 427.7,497.6 428.7,499.6 429.7,499.4 430.7,496.5 431.7,500.4 432.7,498.6 433.7,496.6 434.7,497.0 435.7,498.0 436.7,497.6 437.7,499.9 438.7,497.4 439.7,498.7 440.7,498.5 441.7,498.8 442.7,498.6 443.7,499.2 444.7,499.8 445.7,498.8 446.7,498.6 447.7,496.2 448.7,499.5 449.7,498.5 450.7,499.8 451.7,498.0 452.7,495.2 453.7,499.0 454.7,498.1 455.7,499.2 456.7,499.0 457.7,497.7 458.7,496.5 459.7,497.9 460.7,498.6 461.7,499.1 462.7,498.8 463.7,500.1 464.7,499.4 465.7,499.9 466.7,500.2 467.7,501.6 468.7,501.2 469.7,501.1 470.7,501.3 471.7,501.5 472.7,500.9 473.7,503.7 474.7,503.5 475.7,504.8 476.7,505.6 477.7,503.7 478.7,505.0 479.7,504.8 480.7,507.4 481.7,508.0 482.7,508.5 483.7,507.7 484.7,508.3 485.7,510.5 486.7,508.6 487.7,508.3 488.7,512.2 489.7,511.3 490.7,510.9 491.7,512.3 492.7,512.8 493.7,511.0 494.7,511.2 495.7,511.2 496.7,513.2 497.7,513.1 498.7,513.2 499.7,513.3 500.7,515.2 501.7,513.8 502.7,514.6 503.7,514.5 504.7,514.4 505.7,513.7 506.7,515.3 507.7,514.2 508.7,514.2 509.7,516.9 510.7,514.9 511.7,515.4 512.7,515.9 513.7,515.2 514.7,516.5 515.7,517.0 516.7,516.2 517.7,517.1 518.7,517.5 519.7,517.9 520.7,518.7 521.7,518.4 522.7,519.1 523.7,519.5 524.7,519.9 525.7,523.6 526.7,520.2 527.7,519.5 528.7,521.7 529.7,521.5 530.7,522.5 531.7,522.1 532.7,522.6 533.7,523.1 534.7,523.5 535.7,523.6 536.7,524.1 537.7,525.1 538.7,524.1 539.7,524.6 540.7,525.5 541.7,526.0 542.7,526.2 543.7,527.1 544.7,525.9 545.7,526.9 546.7,527.6 547.7,527.4 548.7,528.1 549.7,527.7 550.7,529.4 551.7,528.1 552.7,528.9 553.7,529.2 554.7,529.1 555.7,529.9 556.7,529.6 557.7,530.1 558.7,530.4" stroke="#d8701f" stroke-width="1" fill="none" stroke-linejoin="miter" shape-rendering="crispEdges"/>
<path d="M156.5 493.0V561.0M156.0 560.5H559.0M156.5 546.5h4.5M156.5 520.5h4.5M156.5 494.5h4.5M210.5 560.5v-4.5M285.5 560.5v-4.5M361.5 560.5v-4.5M436.5 560.5v-4.5M511.5 560.5v-4.5" stroke="#000" stroke-width="1" fill="none"/>
<text transform="translate(150.9,558.1) scale(1,1.05)" font-size="24" text-anchor="end">50</text>
<text transform="translate(150.9,532.2) scale(1,1.05)" font-size="24" text-anchor="end">100</text>
<text transform="translate(150.9,506.3) scale(1,1.05)" font-size="24" text-anchor="end">150</text>
<text transform="translate(210.2,596.1) scale(1,1.05)" font-size="24" text-anchor="middle">3110</text>
<text transform="translate(285.4,596.1) scale(1,1.05)" font-size="24" text-anchor="middle">3115</text>
<text transform="translate(360.7,596.1) scale(1,1.05)" font-size="24" text-anchor="middle">3120</text>
<text transform="translate(435.9,596.1) scale(1,1.05)" font-size="24" text-anchor="middle">3125</text>
<text transform="translate(511.2,596.1) scale(1,1.05)" font-size="24" text-anchor="middle">3130</text>
<text transform="translate(355.7,472.8) scale(1,1.1)" font-size="24" text-anchor="middle">Bin 5</text>
<text transform="translate(355.3,633.8) scale(1,1.1)" font-size="24" text-anchor="middle"><tspan letter-spacing="0.2">Wavenumber </tspan>[cm<tspan font-size="15.5" dy="-11.3" dx="0.5" letter-spacing="1.0">-1</tspan><tspan dy="11.3">]</tspan></text>
<text transform="translate(97.0,529.0) rotate(-90) scale(1,1.1)" font-size="24" text-anchor="middle" letter-spacing="0.6">ADU</text>
</g>
<g id="bin6">
<path d="M684.0 550.5H1087.0M684.0 539.5H1087.0M684.0 528.5H1087.0M684.0 517.5H1087.0M684.0 505.5H1087.0M684.0 494.5H1087.0M738.5 561.0V493.0M813.5 561.0V493.0M889.5 561.0V493.0M964.5 561.0V493.0M1039.5 561.0V493.0" stroke="#000" stroke-width="1" stroke-dasharray="1 4" fill="none"/>
<path d="M691.7,558.1 692.7,557.9M720.7,549.7 721.7,549.0 722.7,548.8M760.7,533.4 761.7,534.1M791.7,520.7 792.7,521.6 793.7,521.8M811.7,516.1 812.7,515.1 813.7,514.7M843.7,505.0 844.7,504.8 845.7,503.3M854.7,503.4 855.7,501.8 856.7,502.7M863.7,497.6 864.7,500.6M872.7,498.7 873.7,498.1 874.7,498.3M883.7,498.6 884.7,496.2M899.7,493.5 900.7,496.6M912.7,496.6 913.7,496.3 914.7,495.9M959.7,499.0 960.7,500.9 961.7,500.3M999.7,502.7 1000.7,502.0 1001.7,503.7M1022.7,512.3 1023.7,511.7 1024.7,512.8M1032.7,515.2 1033.7,515.0M1041.7,518.0 1042.7,517.8 1043.7,518.7M1061.7,523.1 1062.7,524.5" stroke="#3b2a6e" stroke-width="1" fill="none"/>
<path d="M684.7,559.6 685.7,559.5 686.7,558.5 687.7,559.6 688.7,558.9 689.7,557.9 690.7,557.8 691.7,557.8 692.7,557.6 693.7,556.9 694.7,556.6 695.7,556.2 696.7,555.8 697.7,556.2 698.7,555.6 699.7,555.9 700.7,555.0 701.7,554.3 702.7,555.1 703.7,553.8 704.7,553.3 705.7,553.9 706.7,552.9 707.7,553.0 708.7,553.0 709.7,553.3 710.7,552.2 711.7,551.8 712.7,551.7 713.7,551.3 714.7,550.8 715.7,550.5 716.7,550.0 717.7,549.4 718.7,549.5 719.7,549.0 720.7,548.9 721.7,548.9 722.7,548.1 723.7,547.9 724.7,548.3 725.7,548.3 726.7,547.9 727.7,545.9 728.7,547.2 729.7,546.7 730.7,544.6 731.7,546.4 732.7,545.1 733.7,545.1 734.7,544.3 735.7,543.9 736.7,543.1 737.7,544.2 738.7,542.2 739.7,543.3 740.7,542.0 741.7,541.6 742.7,541.0 743.7,540.7 744.7,540.2 745.7,540.1 746.7,539.6 747.7,538.8 748.7,539.3 749.7,539.0 750.7,538.4 751.7,537.5 752.7,537.3 753.7,537.2 754.7,535.7 755.7,536.2 756.7,534.9 757.7,535.3 758.7,534.1 759.7,534.3 760.7,533.2 761.7,533.3 762.7,532.3 763.7,531.8 764.7,531.1 765.7,531.1 766.7,531.2 767.7,531.2 768.7,529.8 769.7,530.3 770.7,528.8 771.7,528.3 772.7,527.9 773.7,528.5 774.7,527.7 775.7,528.0 776.7,526.7 777.7,526.8 778.7,525.4 779.7,525.5 780.7,524.7 781.7,525.0 782.7,524.5 783.7,524.7 784.7,524.8 785.7,524.5 786.7,522.4 787.7,522.2 788.7,522.4 789.7,521.6 790.7,522.9 791.7,521.0 792.7,521.5 793.7,521.1 794.7,520.3 795.7,520.6 796.7,520.1 797.7,519.3 798.7,519.9 799.7,518.2 800.7,518.6 801.7,517.5 802.7,516.9 803.7,516.9 804.7,518.9 805.7,516.4 806.7,517.3 807.7,516.7 808.7,515.5 809.7,516.1 810.7,515.6 811.7,514.8 812.7,515.3 813.7,514.7 814.7,514.3 815.7,513.5 816.7,513.0 817.7,515.3 818.7,512.0 819.7,512.4 820.7,513.0 821.7,511.3 822.7,509.9 823.7,509.5 824.7,512.8 825.7,512.3 826.7,510.6 827.7,510.3 828.7,508.8 829.7,508.8 830.7,507.6 831.7,509.4 832.7,507.0 833.7,507.4 834.7,508.4 835.7,505.5 836.7,506.6 837.7,507.8 838.7,506.7 839.7,508.3 840.7,505.2 841.7,505.9 842.7,505.3 843.7,504.9 844.7,504.6 845.7,502.8 846.7,503.1 847.7,504.4 848.7,504.7 849.7,505.6 850.7,502.2 851.7,501.7 852.7,502.2 853.7,501.9 854.7,502.7 855.7,500.9 856.7,502.0 857.7,501.4 858.7,500.9 859.7,499.8 860.7,502.9 861.7,499.1 862.7,501.4 863.7,497.0 864.7,500.2 865.7,498.7 866.7,499.1 867.7,499.5 868.7,497.3 869.7,497.8 870.7,497.8 871.7,497.9 872.7,498.9 873.7,499.9 874.7,498.9 875.7,494.1 876.7,497.9 877.7,498.9 878.7,498.5 879.7,500.8 880.7,496.6 881.7,497.3 882.7,498.1 883.7,498.4 884.7,494.0 885.7,494.7 886.7,495.2 887.7,498.7 888.7,497.4 889.7,497.1 890.7,494.6 891.7,495.4 892.7,496.0 893.7,495.3 894.7,496.4 895.7,496.9 896.7,495.2 897.7,495.6 898.7,497.4 899.7,493.6 900.7,495.0 901.7,494.8 902.7,494.3 903.7,495.6 904.7,492.1 905.7,494.2 906.7,496.0 907.7,498.0 908.7,496.1 909.7,492.6 910.7,495.5 911.7,494.9 912.7,497.3 913.7,496.3 914.7,495.5 915.7,496.2 916.7,494.9 917.7,495.3 918.7,495.2 919.7,494.4 920.7,493.7 921.7,496.7 922.7,495.3 923.7,495.4 924.7,497.3 925.7,494.3 926.7,494.8 927.7,495.3 928.7,493.2 929.7,496.0 930.7,495.5 931.7,494.0 932.7,494.7 933.7,495.8 934.7,496.3 935.7,496.0 936.7,493.9 937.7,496.8 938.7,496.2 939.7,494.9 940.7,495.6 941.7,496.4 942.7,497.4 943.7,497.1 944.7,497.4 945.7,497.4 946.7,496.3 947.7,497.8 948.7,497.0 949.7,498.6 950.7,499.8 951.7,498.2 952.7,497.7 953.7,500.1 954.7,498.6 955.7,499.2 956.7,499.0 957.7,499.3 958.7,500.1 959.7,500.0 960.7,500.9 961.7,500.2 962.7,501.3 963.7,500.3 964.7,499.6 965.7,498.8 966.7,501.5 967.7,500.8 968.7,498.3 969.7,500.2 970.7,499.8 971.7,499.7 972.7,500.1 973.7,497.3 974.7,496.0 975.7,499.7 976.7,498.1 977.7,498.0 978.7,500.5 979.7,497.0 980.7,496.8 981.7,499.1 982.7,499.1 983.7,498.5 984.7,498.4 985.7,497.7 986.7,498.4 987.7,497.1 988.7,499.2 989.7,500.0 990.7,497.5 991.7,498.9 992.7,498.4 993.7,501.2 994.7,499.0 995.7,500.0 996.7,498.6 997.7,501.6 998.7,501.7 999.7,501.8 1000.7,496.5 1001.7,503.4 1002.7,502.8 1003.7,502.7 1004.7,503.0 1005.7,504.4 1006.7,506.4 1007.7,506.6 1008.7,507.6 1009.7,504.8 1010.7,506.4 1011.7,508.4 1012.7,507.2 1013.7,507.7 1014.7,508.0 1015.7,510.5 1016.7,510.1 1017.7,509.0 1018.7,509.7 1019.7,511.4 1020.7,510.5 1021.7,511.9 1022.7,511.5 1023.7,511.6 1024.7,512.0 1025.7,513.0 1026.7,513.1 1027.7,512.8 1028.7,512.3 1029.7,513.5 1030.7,514.3 1031.7,513.9 1032.7,515.5 1033.7,514.6 1034.7,516.1 1035.7,515.2 1036.7,517.8 1037.7,516.5 1038.7,517.2 1039.7,517.7 1040.7,516.7 1041.7,517.3 1042.7,517.1 1043.7,517.8 1044.7,518.7 1045.7,519.0 1046.7,518.6 1047.7,518.7 1048.7,518.1 1049.7,522.7 1050.7,519.4 1051.7,519.6 1052.7,521.4 1053.7,520.7 1054.7,521.2 1055.7,520.2 1056.7,522.1 1057.7,521.9 1058.7,522.7 1059.7,522.3 1060.7,521.7 1061.7,522.4 1062.7,524.8 1063.7,523.9 1064.7,524.0 1065.7,524.9 1066.7,525.8 1067.7,525.0 1068.7,525.1 1069.7,525.2 1070.7,526.0 1071.7,525.2 1072.7,526.9 1073.7,526.9 1074.7,527.8 1075.7,526.4 1076.7,528.2 1077.7,527.7 1078.7,526.9 1079.7,529.3 1080.7,529.2 1081.7,529.6 1082.7,529.6 1083.7,530.0 1084.7,529.9 1085.7,530.3 1086.7,530.8" stroke="#d8701f" stroke-width="1" fill="none" stroke-linejoin="miter" shape-rendering="crispEdges"/>
<path d="M684.5 493.0V561.0M684.0 560.5H1087.0M684.5 550.5h4.5M684.5 539.5h4.5M684.5 528.5h4.5M684.5 517.5h4.5M684.5 505.5h4.5M684.5 494.5h4.5M738.5 560.5v-4.5M813.5 560.5v-4.5M889.5 560.5v-4.5M964.5 560.5v-4.5M1039.5 560.5v-4.5" stroke="#000" stroke-width="1" fill="none"/>
<text transform="translate(678.9,562.4) scale(1,1.05)" font-size="24" text-anchor="end">40</text>
<text transform="translate(678.9,551.2) scale(1,1.05)" font-size="24" text-anchor="end">60</text>
<text transform="translate(678.9,540.0) scale(1,1.05)" font-size="24" text-anchor="end">80</text>
<text transform="translate(678.9,528.8) scale(1,1.05)" font-size="24" text-anchor="end">100</text>
<text transform="translate(678.9,517.5) scale(1,1.05)" font-size="24" text-anchor="end">120</text>
<text transform="translate(678.9,506.2) scale(1,1.05)" font-size="24" text-anchor="end">140</text>
<text transform="translate(738.2,596.1) scale(1,1.05)" font-size="24" text-anchor="middle">3110</text>
<text transform="translate(813.5,596.1) scale(1,1.05)" font-size="24" text-anchor="middle">3115</text>
<text transform="translate(888.7,596.1) scale(1,1.05)" font-size="24" text-anchor="middle">3120</text>
<text transform="translate(964.0,596.1) scale(1,1.05)" font-size="24" text-anchor="middle">3125</text>
<text transform="translate(1039.2,596.1) scale(1,1.05)" font-size="24" text-anchor="middle">3130</text>
<text transform="translate(883.7,472.8) scale(1,1.1)" font-size="24" text-anchor="middle">Bin 6</text>
<text transform="translate(883.3,633.8) scale(1,1.1)" font-size="24" text-anchor="middle"><tspan letter-spacing="0.2">Wavenumber </tspan>[cm<tspan font-size="15.5" dy="-11.3" dx="0.5" letter-spacing="1.0">-1</tspan><tspan dy="11.3">]</tspan></text>
<text transform="translate(625.0,529.0) rotate(-90) scale(1,1.1)" font-size="24" text-anchor="middle" letter-spacing="0.6">ADU</text>
</g>
<g id="bin7">
<path d="M156.0 745.5H559.0M156.0 733.5H559.0M156.0 720.5H559.0M156.0 708.5H559.0M156.0 696.5H559.0M210.5 758.0V690.0M285.5 758.0V690.0M361.5 758.0V690.0M436.5 758.0V690.0M511.5 758.0V690.0" stroke="#000" stroke-width="1" stroke-dasharray="1 4" fill="none"/>
<path d="M171.7,753.7 172.7,753.1M186.7,749.1 187.7,749.6 188.7,748.9M194.7,747.2 195.7,747.0M203.7,743.1 204.7,743.5 205.7,743.4M217.7,737.0 218.7,736.6 219.7,735.6M324.7,701.0 325.7,700.7 326.7,701.6M352.7,695.0 353.7,696.5 354.7,696.3M445.7,697.6 446.7,699.6M477.7,703.6 478.7,702.6M546.7,725.0 547.7,726.2" stroke="#3b2a6e" stroke-width="1" fill="none"/>
<path d="M156.7,756.5 157.7,756.1 158.7,757.2 159.7,756.1 160.7,755.7 161.7,756.4 162.7,755.4 163.7,756.3 164.7,754.2 165.7,755.6 166.7,753.7 167.7,753.1 168.7,753.2 169.7,753.9 170.7,754.1 171.7,753.6 172.7,752.4 173.7,752.3 174.7,753.0 175.7,752.4 176.7,751.2 177.7,752.0 178.7,751.5 179.7,750.3 180.7,751.6 181.7,749.7 182.7,750.6 183.7,750.7 184.7,749.8 185.7,750.1 186.7,748.4 187.7,749.0 188.7,748.5 189.7,748.1 190.7,747.8 191.7,748.5 192.7,748.2 193.7,747.1 194.7,747.0 195.7,746.1 196.7,746.3 197.7,745.5 198.7,746.2 199.7,744.7 200.7,745.3 201.7,744.1 202.7,744.4 203.7,743.1 204.7,743.7 205.7,743.2 206.7,743.0 207.7,741.3 208.7,740.5 209.7,741.8 210.7,740.1 211.7,738.8 212.7,739.7 213.7,738.8 214.7,738.7 215.7,737.9 216.7,736.1 217.7,736.5 218.7,735.9 219.7,735.8 220.7,734.9 221.7,734.1 222.7,734.6 223.7,734.6 224.7,734.2 225.7,732.1 226.7,732.3 227.7,732.3 228.7,731.5 229.7,731.3 230.7,731.1 231.7,730.2 232.7,729.8 233.7,728.6 234.7,728.7 235.7,728.6 236.7,727.3 237.7,727.8 238.7,727.3 239.7,725.8 240.7,727.0 241.7,725.8 242.7,725.4 243.7,724.1 244.7,723.6 245.7,723.4 246.7,723.9 247.7,723.7 248.7,723.4 249.7,721.7 250.7,721.9 251.7,721.5 252.7,721.7 253.7,720.3 254.7,720.7 255.7,720.4 256.7,720.0 257.7,718.5 258.7,718.9 259.7,719.3 260.7,719.0 261.7,718.1 262.7,716.5 263.7,717.8 264.7,716.8 265.7,716.3 266.7,716.1 267.7,714.4 268.7,715.2 269.7,715.3 270.7,714.9 271.7,712.6 272.7,715.6 273.7,716.1 274.7,714.2 275.7,713.0 276.7,713.1 277.7,712.4 278.7,713.7 279.7,711.8 280.7,713.8 281.7,711.9 282.7,712.9 283.7,711.4 284.7,712.6 285.7,710.3 286.7,711.4 287.7,710.9 288.7,709.6 289.7,710.2 290.7,709.7 291.7,708.4 292.7,707.4 293.7,707.7 294.7,707.2 295.7,709.5 296.7,707.7 297.7,703.9 298.7,707.7 299.7,706.1 300.7,705.2 301.7,706.2 302.7,706.3 303.7,708.4 304.7,706.0 305.7,705.8 306.7,704.2 307.7,704.9 308.7,704.3 309.7,703.3 310.7,704.7 311.7,703.8 312.7,704.3 313.7,703.8 314.7,703.1 315.7,703.5 316.7,702.2 317.7,701.2 318.7,701.4 319.7,701.8 320.7,701.5 321.7,700.5 322.7,699.2 323.7,701.6 324.7,699.7 325.7,700.9 326.7,700.5 327.7,699.1 328.7,694.5 329.7,697.2 330.7,695.7 331.7,696.0 332.7,696.8 333.7,694.9 334.7,696.6 335.7,695.0 336.7,694.1 337.7,696.2 338.7,694.3 339.7,698.0 340.7,693.6 341.7,695.8 342.7,692.5 343.7,691.5 344.7,696.4 345.7,693.0 346.7,692.9 347.7,694.7 348.7,694.1 349.7,692.2 350.7,694.0 351.7,694.0 352.7,696.1 353.7,695.4 354.7,693.5 355.7,694.9 356.7,692.2 357.7,692.8 358.7,695.5 359.7,692.5 360.7,693.4 361.7,693.9 362.7,695.4 363.7,694.0 364.7,691.6 365.7,695.2 366.7,692.3 367.7,693.4 368.7,693.8 369.7,693.0 370.7,691.1 371.7,690.5 372.7,691.9 373.7,690.9 374.7,691.0 375.7,695.0 376.7,693.2 377.7,692.5 378.7,693.4 379.7,692.0 380.7,694.1 381.7,689.5 382.7,692.9 383.7,693.4 384.7,693.7 385.7,691.5 386.7,694.0 387.7,690.9 388.7,694.0 389.7,690.6 390.7,694.2 391.7,693.2 392.7,693.7 393.7,691.6 394.7,692.7 395.7,693.0 396.7,692.2 397.7,691.1 398.7,691.5 399.7,694.1 400.7,690.6 401.7,694.0 402.7,693.0 403.7,691.2 404.7,693.9 405.7,693.8 406.7,692.6 407.7,688.9 408.7,693.3 409.7,691.9 410.7,691.7 411.7,692.6 412.7,692.0 413.7,693.9 414.7,691.7 415.7,693.6 416.7,691.8 417.7,693.3 418.7,693.9 419.7,688.0 420.7,693.2 421.7,693.0 422.7,697.3 423.7,693.8 424.7,694.1 425.7,694.6 426.7,695.0 427.7,695.4 428.7,693.6 429.7,697.8 430.7,694.7 431.7,694.6 432.7,697.2 433.7,696.0 434.7,696.7 435.7,697.0 436.7,694.5 437.7,698.0 438.7,697.4 439.7,696.7 440.7,696.1 441.7,695.9 442.7,696.4 443.7,699.0 444.7,697.7 445.7,695.9 446.7,697.0 447.7,696.8 448.7,697.0 449.7,698.7 450.7,696.9 451.7,697.3 452.7,697.9 453.7,697.1 454.7,696.9 455.7,697.1 456.7,697.0 457.7,697.1 458.7,695.3 459.7,697.4 460.7,695.8 461.7,697.6 462.7,697.8 463.7,697.0 464.7,699.0 465.7,698.2 466.7,698.8 467.7,696.8 468.7,696.8 469.7,698.8 470.7,699.9 471.7,699.2 472.7,700.0 473.7,701.1 474.7,700.3 475.7,701.6 476.7,702.7 477.7,709.1 478.7,701.3 479.7,702.1 480.7,704.5 481.7,705.4 482.7,704.0 483.7,704.9 484.7,704.2 485.7,704.5 486.7,703.7 487.7,706.0 488.7,706.3 489.7,705.6 490.7,707.3 491.7,709.8 492.7,706.8 493.7,709.1 494.7,709.3 495.7,710.3 496.7,708.9 497.7,711.4 498.7,710.1 499.7,709.5 500.7,711.5 501.7,710.7 502.7,711.5 503.7,711.0 504.7,709.7 505.7,711.4 506.7,711.2 507.7,711.5 508.7,710.5 509.7,711.0 510.7,711.6 511.7,713.3 512.7,713.8 513.7,714.3 514.7,717.0 515.7,717.0 516.7,718.1 517.7,719.2 518.7,721.2 519.7,720.1 520.7,719.2 521.7,720.5 522.7,719.3 523.7,720.9 524.7,721.4 525.7,721.0 526.7,720.6 527.7,721.2 528.7,720.2 529.7,721.5 530.7,720.5 531.7,719.5 532.7,720.0 533.7,720.5 534.7,721.7 535.7,722.5 536.7,723.7 537.7,724.1 538.7,723.3 539.7,723.4 540.7,722.7 541.7,724.4 542.7,723.2 543.7,723.9 544.7,723.8 545.7,725.0 546.7,724.3 547.7,725.9 548.7,725.8 549.7,725.4 550.7,726.5 551.7,726.1 552.7,725.8 553.7,726.5 554.7,727.4 555.7,728.2 556.7,727.9 557.7,728.2 558.7,728.9" stroke="#d8701f" stroke-width="1" fill="none" stroke-linejoin="miter" shape-rendering="crispEdges"/>
<path d="M156.5 690.0V758.0M156.0 757.5H559.0M156.5 745.5h4.5M156.5 733.5h4.5M156.5 720.5h4.5M156.5 708.5h4.5M156.5 696.5h4.5M210.5 757.5v-4.5M285.5 757.5v-4.5M361.5 757.5v-4.5M436.5 757.5v-4.5M511.5 757.5v-4.5" stroke="#000" stroke-width="1" fill="none"/>
<text transform="translate(150.9,757.1) scale(1,1.05)" font-size="24" text-anchor="end">40</text>
<text transform="translate(150.9,744.8) scale(1,1.05)" font-size="24" text-anchor="end">60</text>
<text transform="translate(150.9,732.4) scale(1,1.05)" font-size="24" text-anchor="end">80</text>
<text transform="translate(150.9,720.3) scale(1,1.05)" font-size="24" text-anchor="end">100</text>
<text transform="translate(150.9,708.2) scale(1,1.05)" font-size="24" text-anchor="end">120</text>
<text transform="translate(210.2,793.1) scale(1,1.05)" font-size="24" text-anchor="middle">3110</text>
<text transform="translate(285.4,793.1) scale(1,1.05)" font-size="24" text-anchor="middle">3115</text>
<text transform="translate(360.7,793.1) scale(1,1.05)" font-size="24" text-anchor="middle">3120</text>
<text transform="translate(435.9,793.1) scale(1,1.05)" font-size="24" text-anchor="middle">3125</text>
<text transform="translate(511.2,793.1) scale(1,1.05)" font-size="24" text-anchor="middle">3130</text>
<text transform="translate(355.7,669.8) scale(1,1.1)" font-size="24" text-anchor="middle">Bin 7</text>
<text transform="translate(355.3,830.8) scale(1,1.1)" font-size="24" text-anchor="middle"><tspan letter-spacing="0.2">Wavenumber </tspan>[cm<tspan font-size="15.5" dy="-11.3" dx="0.5" letter-spacing="1.0">-1</tspan><tspan dy="11.3">]</tspan></text>
<text transform="translate(97.0,726.0) rotate(-90) scale(1,1.1)" font-size="24" text-anchor="middle" letter-spacing="0.6">ADU</text>
</g>
<g id="bin8">
<path d="M684.0 751.5H1087.0M684.0 734.5H1087.0M684.0 717.5H1087.0M684.0 700.5H1087.0M738.5 758.0V690.0M813.5 758.0V690.0M889.5 758.0V690.0M964.5 758.0V690.0M1039.5 758.0V690.0" stroke="#000" stroke-width="1" stroke-dasharray="1 4" fill="none"/>
<path d="M708.7,751.9 709.7,751.4 710.7,751.4M721.7,747.5 722.7,746.7 723.7,745.9M782.7,720.1 783.7,719.9 784.7,719.6M794.7,716.5 795.7,716.8 796.7,715.5M833.7,703.9 834.7,703.2M847.7,701.1 848.7,700.1 849.7,700.9M884.7,689.3 885.7,694.5M904.7,695.5 905.7,695.2M917.7,691.8 918.7,695.5M922.7,695.6 923.7,691.2M937.7,694.1 938.7,696.9 939.7,694.9M992.7,703.9 993.7,701.1M1001.7,701.8 1002.7,700.7M1012.7,707.7 1013.7,710.6 1014.7,709.4M1018.7,711.3 1019.7,709.5 1020.7,710.9M1032.7,713.2 1033.7,714.9M1057.7,723.1 1058.7,722.5M1082.7,729.3 1083.7,730.3" stroke="#3b2a6e" stroke-width="1" fill="none"/>
<path d="M684.7,756.9 685.7,757.2 686.7,755.9 687.7,756.2 688.7,755.6 689.7,755.7 690.7,755.9 691.7,756.5 692.7,754.3 693.7,754.8 694.7,754.4 695.7,755.4 696.7,755.4 697.7,753.7 698.7,754.0 699.7,754.0 700.7,753.5 701.7,753.4 702.7,752.7 703.7,753.7 704.7,753.3 705.7,751.8 706.7,751.8 707.7,751.5 708.7,752.1 709.7,751.4 710.7,750.4 711.7,749.7 712.7,749.7 713.7,749.2 714.7,748.5 715.7,749.3 716.7,749.2 717.7,748.3 718.7,748.2 719.7,746.8 720.7,746.3 721.7,746.9 722.7,746.5 723.7,745.8 724.7,745.4 725.7,745.7 726.7,744.3 727.7,745.6 728.7,745.2 729.7,743.4 730.7,743.3 731.7,743.4 732.7,742.9 733.7,743.3 734.7,742.3 735.7,741.3 736.7,741.7 737.7,741.7 738.7,740.4 739.7,739.5 740.7,739.7 741.7,739.5 742.7,738.8 743.7,738.6 744.7,738.3 745.7,737.5 746.7,737.4 747.7,737.3 748.7,734.5 749.7,735.6 750.7,735.0 751.7,733.3 752.7,734.4 753.7,733.5 754.7,732.6 755.7,733.6 756.7,732.0 757.7,731.9 758.7,732.4 759.7,729.6 760.7,729.7 761.7,728.7 762.7,728.7 763.7,728.6 764.7,727.5 765.7,728.2 766.7,726.6 767.7,725.3 768.7,726.4 769.7,725.5 770.7,725.5 771.7,725.8 772.7,725.5 773.7,723.9 774.7,724.2 775.7,722.3 776.7,724.2 777.7,721.9 778.7,722.8 779.7,722.8 780.7,720.4 781.7,721.3 782.7,719.3 783.7,719.2 784.7,718.8 785.7,716.2 786.7,718.4 787.7,717.9 788.7,719.4 789.7,717.0 790.7,721.5 791.7,715.6 792.7,717.2 793.7,716.9 794.7,715.6 795.7,716.9 796.7,716.4 797.7,716.7 798.7,715.4 799.7,715.5 800.7,716.1 801.7,714.6 802.7,712.2 803.7,715.4 804.7,712.9 805.7,711.8 806.7,712.5 807.7,711.6 808.7,712.6 809.7,711.0 810.7,710.7 811.7,710.9 812.7,711.7 813.7,710.0 814.7,710.7 815.7,709.4 816.7,710.6 817.7,709.3 818.7,707.2 819.7,706.8 820.7,707.9 821.7,709.0 822.7,706.9 823.7,708.0 824.7,708.6 825.7,706.4 826.7,707.7 827.7,702.8 828.7,705.6 829.7,704.7 830.7,705.1 831.7,704.8 832.7,704.9 833.7,703.1 834.7,704.5 835.7,702.1 836.7,704.0 837.7,702.3 838.7,704.7 839.7,700.7 840.7,701.6 841.7,702.3 842.7,702.7 843.7,701.7 844.7,701.7 845.7,701.2 846.7,702.2 847.7,699.3 848.7,699.0 849.7,700.3 850.7,698.9 851.7,697.8 852.7,695.2 853.7,698.4 854.7,697.3 855.7,698.9 856.7,699.6 857.7,699.7 858.7,698.0 859.7,698.2 860.7,698.1 861.7,699.8 862.7,697.6 863.7,697.4 864.7,693.4 865.7,698.7 866.7,694.2 867.7,696.5 868.7,693.4 869.7,697.3 870.7,696.2 871.7,697.4 872.7,692.9 873.7,691.0 874.7,691.6 875.7,697.0 876.7,695.5 877.7,694.3 878.7,693.5 879.7,692.9 880.7,691.9 881.7,691.0 882.7,694.1 883.7,692.7 884.7,691.5 885.7,693.8 886.7,693.6 887.7,692.6 888.7,693.6 889.7,693.9 890.7,695.7 891.7,694.1 892.7,694.0 893.7,693.8 894.7,693.1 895.7,696.2 896.7,696.2 897.7,695.9 898.7,695.4 899.7,697.0 900.7,693.4 901.7,695.4 902.7,695.1 903.7,694.9 904.7,694.0 905.7,693.6 906.7,692.6 907.7,694.2 908.7,693.2 909.7,694.0 910.7,693.0 911.7,694.9 912.7,692.9 913.7,693.2 914.7,694.9 915.7,693.6 916.7,694.9 917.7,699.1 918.7,693.6 919.7,690.6 920.7,691.9 921.7,694.1 922.7,694.7 923.7,690.9 924.7,692.5 925.7,691.2 926.7,693.8 927.7,693.1 928.7,693.8 929.7,691.7 930.7,695.0 931.7,692.1 932.7,691.2 933.7,691.5 934.7,691.8 935.7,692.6 936.7,692.1 937.7,696.1 938.7,697.0 939.7,695.7 940.7,697.3 941.7,696.3 942.7,694.7 943.7,696.5 944.7,694.6 945.7,692.4 946.7,697.1 947.7,694.8 948.7,696.4 949.7,695.8 950.7,695.8 951.7,693.2 952.7,695.4 953.7,696.6 954.7,697.9 955.7,694.8 956.7,696.3 957.7,697.7 958.7,698.0 959.7,699.5 960.7,694.8 961.7,699.4 962.7,696.9 963.7,698.3 964.7,696.7 965.7,700.8 966.7,698.9 967.7,700.3 968.7,697.8 969.7,700.3 970.7,699.0 971.7,700.1 972.7,701.0 973.7,699.4 974.7,699.8 975.7,701.1 976.7,701.5 977.7,700.9 978.7,700.1 979.7,702.4 980.7,700.6 981.7,702.2 982.7,700.0 983.7,701.6 984.7,701.8 985.7,700.6 986.7,702.0 987.7,701.6 988.7,702.0 989.7,704.2 990.7,703.2 991.7,703.6 992.7,703.6 993.7,700.4 994.7,702.6 995.7,701.0 996.7,701.4 997.7,703.3 998.7,699.4 999.7,702.2 1000.7,701.3 1001.7,701.2 1002.7,699.7 1003.7,704.0 1004.7,702.1 1005.7,702.7 1006.7,705.3 1007.7,705.4 1008.7,706.4 1009.7,707.0 1010.7,708.6 1011.7,708.8 1012.7,707.4 1013.7,711.1 1014.7,708.1 1015.7,710.6 1016.7,711.0 1017.7,708.9 1018.7,710.9 1019.7,709.2 1020.7,712.0 1021.7,709.2 1022.7,712.0 1023.7,710.3 1024.7,709.4 1025.7,712.6 1026.7,712.9 1027.7,711.2 1028.7,710.0 1029.7,712.5 1030.7,711.6 1031.7,713.5 1032.7,713.0 1033.7,714.4 1034.7,714.0 1035.7,714.6 1036.7,715.6 1037.7,713.9 1038.7,716.3 1039.7,715.0 1040.7,717.8 1041.7,716.5 1042.7,718.0 1043.7,718.6 1044.7,718.0 1045.7,719.0 1046.7,718.9 1047.7,719.1 1048.7,719.5 1049.7,719.9 1050.7,720.1 1051.7,721.2 1052.7,723.3 1053.7,722.5 1054.7,718.9 1055.7,719.8 1056.7,725.0 1057.7,722.0 1058.7,723.5 1059.7,722.9 1060.7,724.4 1061.7,724.5 1062.7,726.0 1063.7,726.3 1064.7,725.6 1065.7,726.5 1066.7,726.4 1067.7,726.2 1068.7,726.4 1069.7,727.4 1070.7,727.1 1071.7,725.3 1072.7,727.8 1073.7,726.7 1074.7,728.6 1075.7,726.6 1076.7,729.5 1077.7,726.9 1078.7,730.0 1079.7,729.3 1080.7,730.1 1081.7,729.6 1082.7,729.3 1083.7,730.2 1084.7,731.6 1085.7,730.3 1086.7,730.8" stroke="#d07f25" stroke-width="1" fill="none" stroke-linejoin="miter" shape-rendering="crispEdges"/>
<path d="M684.5 690.0V758.0M684.0 757.5H1087.0M684.5 751.5h4.5M684.5 734.5h4.5M684.5 717.5h4.5M684.5 700.5h4.5M738.5 757.5v-4.5M813.5 757.5v-4.5M889.5 757.5v-4.5M964.5 757.5v-4.5M1039.5 757.5v-4.5" stroke="#000" stroke-width="1" fill="none"/>
<text transform="translate(678.9,763.1) scale(1,1.05)" font-size="24" text-anchor="end">20</text>
<text transform="translate(678.9,746.1) scale(1,1.05)" font-size="24" text-anchor="end">40</text>
<text transform="translate(678.9,729.1) scale(1,1.05)" font-size="24" text-anchor="end">60</text>
<text transform="translate(678.9,712.0) scale(1,1.05)" font-size="24" text-anchor="end">80</text>
<text transform="translate(738.2,793.1) scale(1,1.05)" font-size="24" text-anchor="middle">3110</text>
<text transform="translate(813.5,793.1) scale(1,1.05)" font-size="24" text-anchor="middle">3115</text>
<text transform="translate(888.7,793.1) scale(1,1.05)" font-size="24" text-anchor="middle">3120</text>
<text transform="translate(964.0,793.1) scale(1,1.05)" font-size="24" text-anchor="middle">3125</text>
<text transform="translate(1039.2,793.1) scale(1,1.05)" font-size="24" text-anchor="middle">3130</text>
<text transform="translate(883.7,669.8) scale(1,1.1)" font-size="24" text-anchor="middle">Bin 8</text>
<text transform="translate(883.3,830.8) scale(1,1.1)" font-size="24" text-anchor="middle"><tspan letter-spacing="0.2">Wavenumber </tspan>[cm<tspan font-size="15.5" dy="-11.3" dx="0.5" letter-spacing="1.0">-1</tspan><tspan dy="11.3">]</tspan></text>
<text transform="translate(638.0,726.0) rotate(-90) scale(1,1.1)" font-size="24" text-anchor="middle" letter-spacing="0.6">ADU</text>
</g>
</svg>
</body></html>
